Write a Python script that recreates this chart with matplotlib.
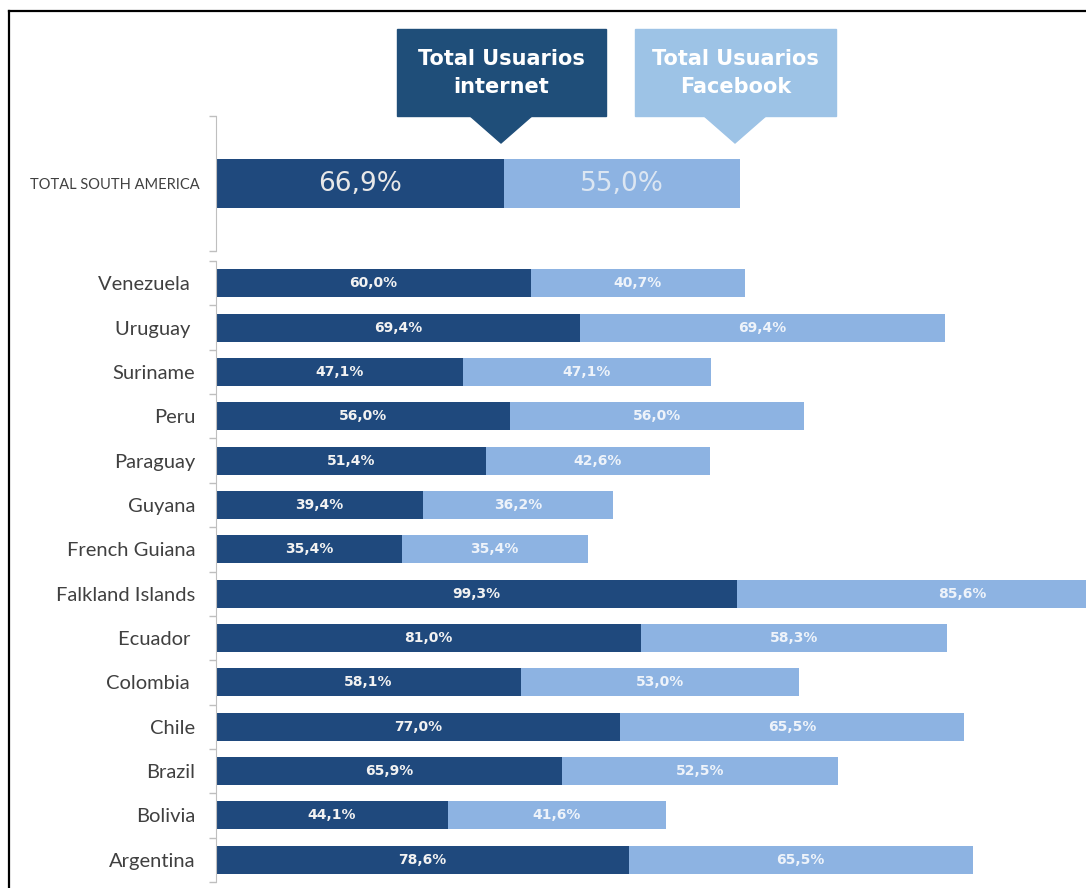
import numpy as np
import matplotlib.pyplot as plt
from matplotlib.patches import Polygon, Rectangle
from matplotlib.lines import Line2D

countries = ['Venezuela ', 'Uruguay ', 'Suriname', 'Peru', 'Paraguay', 'Guyana',
             'French Guiana', 'Falkland Islands', 'Ecuador ', 'Colombia ', 'Chile',
             'Brazil', 'Bolivia', 'Argentina']
internet = [60.0, 69.4, 47.1, 56.0, 51.4, 39.4, 35.4, 99.3, 81.0, 58.1, 77.0, 65.9, 44.1, 78.6]
facebook = [40.7, 69.4, 47.1, 56.0, 42.6, 36.2, 35.4, 85.6, 58.3, 53.0, 65.5, 52.5, 41.6, 65.5]

total_label = 'TOTAL SOUTH AMERICA'
total_internet = 66.9
total_facebook = 55.0

DARK = '#1f497d'
LIGHT = '#8db3e2'
GRID = '#bfbfbf'
TXT = '#404040'

W, H = 1086, 888
fig = plt.figure(figsize=(W / 100, H / 100), dpi=100)


def rect(x0, y0, x1, y1):
    # pixel box (top-left origin) -> figure fraction
    return [x0 / W, 1 - y1 / H, (x1 - x0) / W, (y1 - y0) / H]


def fmt(v):
    return f'{v:.1f}%'.replace('.', ',')


# countries
ax = fig.add_axes(rect(216, 261, 1086, 882))
y = np.arange(len(countries))
ax.barh(y, internet, height=0.63, color=DARK)
ax.barh(y, facebook, left=internet, height=0.63, color=LIGHT)
ax.set_xlim(0, (1086 - 216) / 5.25)
ax.set_ylim(len(countries) - 0.5, -0.5)
for i in range(len(countries)):
    ax.text(internet[i] / 2, i, fmt(internet[i]), ha='center', va='center',
            color='#f2f2f2', fontsize=10, fontweight='bold')
    ax.text(internet[i] + facebook[i] / 2, i, fmt(facebook[i]), ha='center', va='center',
            color='#eef3fa', fontsize=10, fontweight='bold', clip_on=True)
ax.set_yticks(np.arange(-0.5, len(countries), 1))
ax.set_yticklabels([])
ax.set_yticks(y, minor=True)
ax.set_yticklabels(countries, minor=True, fontsize=14.5, color=TXT, family='Lato')
ax.tick_params(axis='y', which='major', length=5, color=GRID, width=1)
ax.tick_params(axis='y', which='minor', length=0, pad=15)
ax.set_xticks([])
for s in ['top', 'right', 'bottom']:
    ax.spines[s].set_visible(False)
ax.spines['left'].set_color(GRID)

# total
ax2 = fig.add_axes(rect(216, 116, 1086, 251))
ax2.barh([0.5], [total_internet], height=0.37, color=DARK)
ax2.barh([0.5], [total_facebook], left=[total_internet], height=0.37, color=LIGHT)
ax2.set_xlim(0, (1086 - 216) / 4.3)
ax2.set_ylim(0, 1)
ax2.text(total_internet / 2, 0.5, fmt(total_internet), ha='center', va='center',
         color='#e8e8e8', fontsize=19)
ax2.text(total_internet + total_facebook / 2, 0.5, fmt(total_facebook), ha='center',
         va='center', color='#dce6f2', fontsize=19)
ax2.set_yticks([0, 1])
ax2.set_yticklabels([])
ax2.set_yticks([0.5], minor=True)
ax2.set_yticklabels([total_label], minor=True, fontsize=10.5, color=TXT, family='Lato')
ax2.tick_params(axis='y', which='major', length=5, color=GRID, width=1)
ax2.tick_params(axis='y', which='minor', length=0, pad=11.5)
ax2.set_xticks([])
for s in ['top', 'right', 'bottom']:
    ax2.spines[s].set_visible(False)
ax2.spines['left'].set_color(GRID)


# callouts
def callout(x0, x1, tip_x, color, text):
    tf = fig.transFigure
    fig.patches.append(Rectangle((x0 / W, 1 - 116 / H), (x1 - x0) / W, 87 / H,
                                 transform=tf, color=color))
    fig.patches.append(Polygon([((tip_x - 32) / W, 1 - 115 / H), ((tip_x + 32) / W, 1 - 115 / H),
                                (tip_x / W, 1 - 143 / H)], transform=tf, color=color))
    fig.text((x0 + x1) / 2 / W, 1 - 73 / H, text, ha='center', va='center', color='white',
             fontsize=15, fontweight='bold', linespacing=1.45)


callout(397, 606, 501, '#1f4e79', 'Total Usuarios\ninternet')
callout(635, 836, 735, '#9dc3e6', 'Total Usuarios\nFacebook')

# frame of the screenshot
fig.lines.append(Line2D([9 / W, 9 / W], [0, 1 - 11 / H], transform=fig.transFigure,
                        color='black', lw=1.6))
fig.lines.append(Line2D([9 / W, 1], [1 - 11 / H, 1 - 11 / H], transform=fig.transFigure,
                        color='black', lw=1.6))

fig.savefig('out.png', dpi=100)
